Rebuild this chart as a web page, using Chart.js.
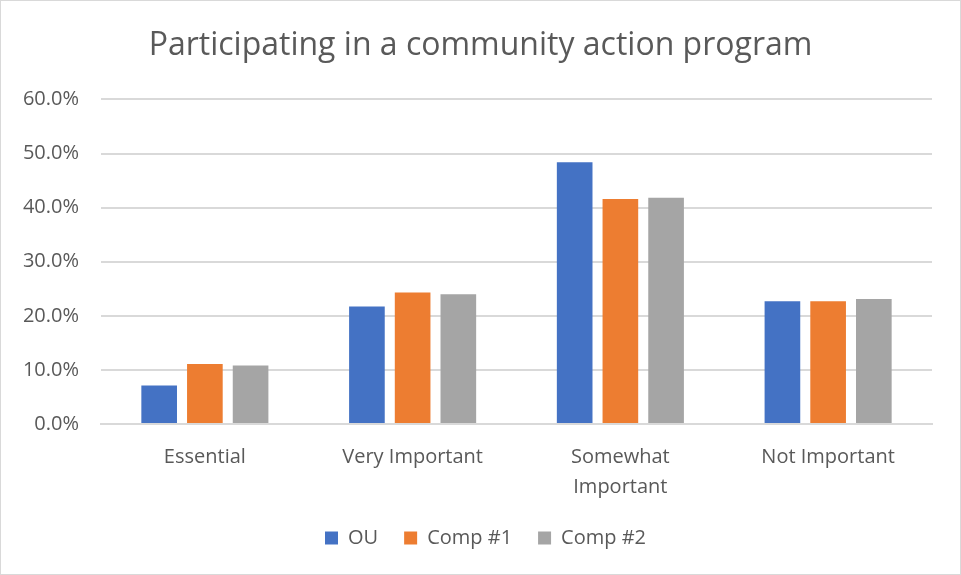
<!DOCTYPE html>
<html>
<head>
<meta charset="utf-8">
<script src="https://cdn.jsdelivr.net/npm/chart.js@4/dist/chart.umd.min.js"></script>
<style>
  html, body { margin: 0; padding: 0; background: #fff; }
  #wrap { width: 959px; height: 573px; border: 1px solid #d9d9d9; position: relative; }
</style>
</head>
<body>
<div id="wrap"><canvas id="chart" width="959" height="573"></canvas></div>
<script>
const categories = ['Essential', 'Very Important', ['Somewhat', 'Important'], 'Not Important'];
const ouValues = [7.1, 21.7, 48.4, 22.7];
const comp1Values = [11.1, 24.3, 41.6, 22.7];
const comp2Values = [10.8, 24.0, 41.8, 23.1];
const yTicks = [0, 10, 20, 30, 40, 50, 60];

const textColor = '#595959';
const fontFamily = '"Open Sans", "Noto Sans", sans-serif';

// nudge legend and title into place without changing the plot area
function moveBox(box, dx, dy) {
    box.left += dx; box.right += dx;
    box.top += dy; box.bottom += dy;
}
const boxShift = {
    id: 'boxShift',
    beforeDraw(chart) {
        moveBox(chart.legend, 14, -10);
        moveBox(chart.titleBlock, 9, 0);
    },
    afterDraw(chart) {
        moveBox(chart.legend, -14, 10);
        moveBox(chart.titleBlock, -9, 0);
    }
};

const ctx = document.getElementById('chart').getContext('2d');
new Chart(ctx, {
    type: 'bar',
    data: {
        labels: categories,
        datasets: [
            { label: 'OU', data: ouValues, backgroundColor: '#4472c4' },
            { label: 'Comp #1', data: comp1Values, backgroundColor: '#ed7d31' },
            { label: 'Comp #2', data: comp2Values, backgroundColor: '#a5a5a5' }
        ]
    },
    plugins: [boxShift],
    options: {
        responsive: false,
        animation: false,
        devicePixelRatio: 1,
        layout: { padding: { left: 10, right: 28, top: 0, bottom: 6 } },
        datasets: {
            bar: { categoryPercentage: 0.66, barPercentage: 0.78 }
        },
        plugins: {
            title: {
                display: true,
                text: 'Participating in a community action program',
                color: textColor,
                font: { family: fontFamily, size: 32, weight: 'normal', lineHeight: 1.2 },
                padding: { top: 26, bottom: 34 }
            },
            legend: {
                position: 'bottom',
                labels: {
                    color: textColor,
                    font: { family: fontFamily, size: 20 },
                    boxWidth: 13,
                    boxHeight: 13,
                    padding: 26
                }
            },
            tooltip: { enabled: false }
        },
        scales: {
            x: {
                grid: { display: false },
                border: { color: '#d9d9d9', width: 2 },
                ticks: {
                    color: textColor,
                    font: { family: fontFamily, size: 20, lineHeight: 1.5 },
                    padding: 10,
                    maxRotation: 0,
                    autoSkip: false
                }
            },
            y: {
                min: 0,
                max: 60,
                afterBuildTicks: axis => { axis.ticks = yTicks.map(v => ({ value: v })); },
                afterFit: axis => { axis.width = 90; },
                grid: { color: '#d9d9d9', lineWidth: 2, drawTicks: false },
                border: { display: false },
                ticks: {
                    color: textColor,
                    font: { family: fontFamily, size: 20 },
                    padding: 22,
                    callback: v => v.toFixed(1) + '%'
                }
            }
        }
    }
});
</script>
</body>
</html>
